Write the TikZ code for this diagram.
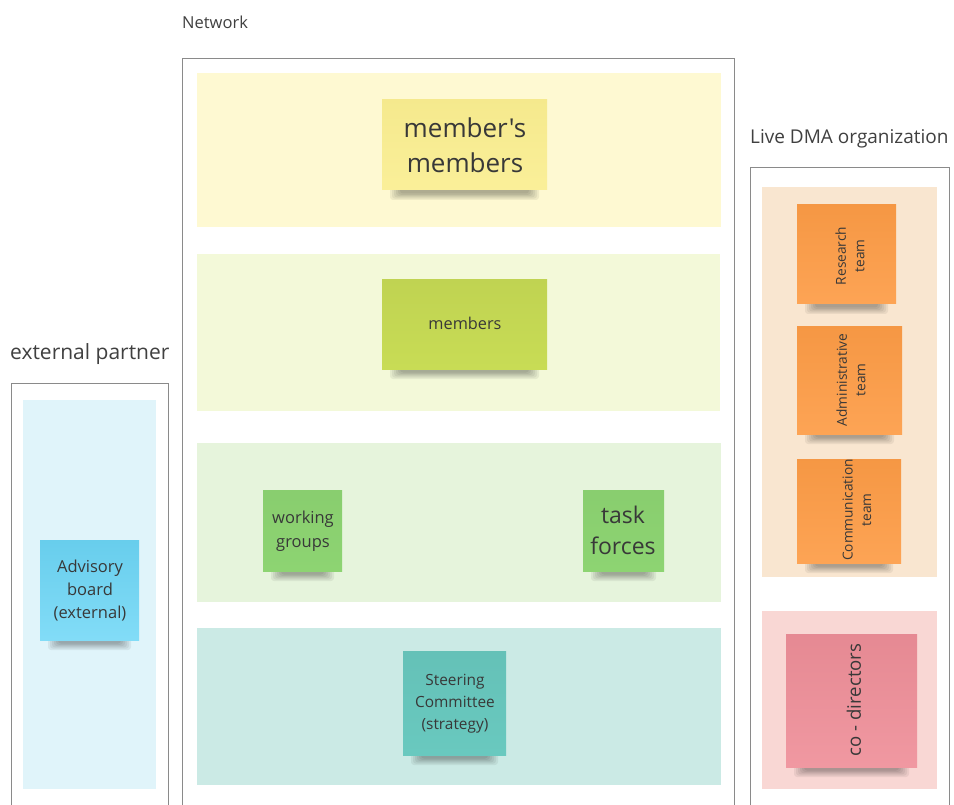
\documentclass[tikz,border=0pt]{standalone}
\usepackage{fontspec}
\setmainfont{Open Sans}[Ligatures=TeXOff]
\usetikzlibrary{positioning}
\definecolor{frameC}{HTML}{8A8A8A}
\definecolor{labelC}{HTML}{404040}
\definecolor{txtC}{HTML}{383838}
\definecolor{bandY}{HTML}{FEF9D2}
\definecolor{stY}{HTML}{FAEE90}
\definecolor{bandLG}{HTML}{F3F9D9}
\definecolor{stLG}{HTML}{C8DC55}
\definecolor{bandG}{HTML}{E6F4DC}
\definecolor{stG}{HTML}{8DD472}
\definecolor{bandT}{HTML}{CBEAE5}
\definecolor{stT}{HTML}{69C9BF}
\definecolor{bandB}{HTML}{E0F4FA}
\definecolor{stB}{HTML}{6CD6F6}
\definecolor{bandO}{HTML}{F9E6D0}
\definecolor{stO}{HTML}{FD9C46}
\definecolor{bandP}{HTML}{F9D7D4}
\definecolor{stP}{HTML}{EF8F99}
\newcommand\myshadow[3]{%
  \foreach \k in {0,1,2,3,4,5}{%
    \fill[black,opacity=0.06,rounded corners=3pt] ({#1+8+2*\k},{#3-4}) rectangle ({#2-8-2*\k},{#3+10-1.3*\k});}}
\tikzset{
  frame/.style={draw=frameC,line width=0.9pt},
  lbl/.style={text=labelC,anchor=west,inner sep=0pt},
  stxt/.style={text=txtC,align=center,inner sep=0pt},
}
\begin{document}
\begin{tikzpicture}[x=1pt,y=-1pt]
\useasboundingbox (0,0) rectangle (954,805);
\clip (0,0) rectangle (954,805);
\fill[white] (0,0) rectangle (954,805);

% frames
\draw[frame] (182,820) -- (182,58) -- (734,58) -- (734,820);
\draw[frame] (750,820) -- (750,167) -- (949,167) -- (949,820);
\draw[frame] (11,820) -- (11,383) -- (168,383) -- (168,820);

% frame labels
\node[lbl,font=\fontsize{16.5}{20}\selectfont] (netlbl) at (182,22) {Network};
\node[lbl,font=\fontsize{19}{23}\selectfont] (dmalbl) at (750,139) {Live DMA organization};
\node[lbl,font=\fontsize{21}{25}\selectfont] (extlbl) at (10,354) {external partner};

% bands
\fill[bandY] (197,73) rectangle (721,227);
\fill[bandLG] (197,254) rectangle (720,411);
\fill[bandG] (197,443) rectangle (721,602);
\fill[bandT] (197,628) rectangle (721,785);
\fill[bandB] (23,400) rectangle (156,789);
\fill[bandO] (762,187) rectangle (937,577);
\fill[bandP] (762,611) rectangle (937,789);

% stickies: shadows
\myshadow{382}{547}{190}
\myshadow{382}{547}{369}
\myshadow{263}{342}{571}
\myshadow{583}{664}{571}
\myshadow{403}{506}{755}
\myshadow{40}{139}{640}
\myshadow{797}{896}{304}
\myshadow{797}{902}{434}
\myshadow{797}{901}{563}
\myshadow{786}{917}{767}

% stickies
\fill[top color=stY!98!black,bottom color=stY!92!white] (382,100) rectangle (547,190);
\fill[top color=stLG!96!black,bottom color=stLG] (382,280) rectangle (547,369);
\fill[top color=stG!97!black,bottom color=stG] (263,490) rectangle (342,571);
\fill[top color=stG!97!black,bottom color=stG] (583,490) rectangle (664,571);
\fill[top color=stT!96!black,bottom color=stT] (403,651) rectangle (506,755);
\fill[top color=stB!96!black,bottom color=stB!85!white] (40,540) rectangle (139,640);
\fill[top color=stO!97!black,bottom color=stO!92!white] (797,205) rectangle (896,304);
\fill[top color=stO!97!black,bottom color=stO!92!white] (797,327) rectangle (902,434);
\fill[top color=stO!97!black,bottom color=stO!92!white] (797,459) rectangle (901,563);
\fill[top color=stP!96!black,bottom color=stP!92!white] (786,634) rectangle (917,767);

% sticky texts
\node[stxt,font=\fontsize{26}{35}\selectfont] (mm) at (465,145) {member's\\members};
\node[stxt,font=\fontsize{16.3}{22}\selectfont] (mem) at (465,323) {members};
\node[stxt,font=\fontsize{16.5}{24}\selectfont] (wg) at (303,531) {working\\groups};
\node[stxt,font=\fontsize{23}{31}\selectfont] (tf) at (623,530) {task\\forces};
\node[stxt,font=\fontsize{15.4}{22}\selectfont] (sc) at (455,704) {Steering\\Committee\\(strategy)};
\node[stxt,font=\fontsize{16.5}{23}\selectfont] (ab) at (90,591) {Advisory\\board\\(external)};
\node[stxt,rotate=90,font=\fontsize{13.7}{18.5}\selectfont] (rt) at (850,256) {Research\\team};
\node[stxt,rotate=90,font=\fontsize{13.7}{18.5}\selectfont] (at) at (851,380) {Administrative\\team};
\node[stxt,rotate=90,font=\fontsize{13.7}{18.5}\selectfont] (ct) at (857,510) {Communication\\team};
\node[stxt,rotate=90,font=\fontsize{18.6}{24}\selectfont] (cd) at (854,700) {co - directors};
\end{tikzpicture}
\end{document}
